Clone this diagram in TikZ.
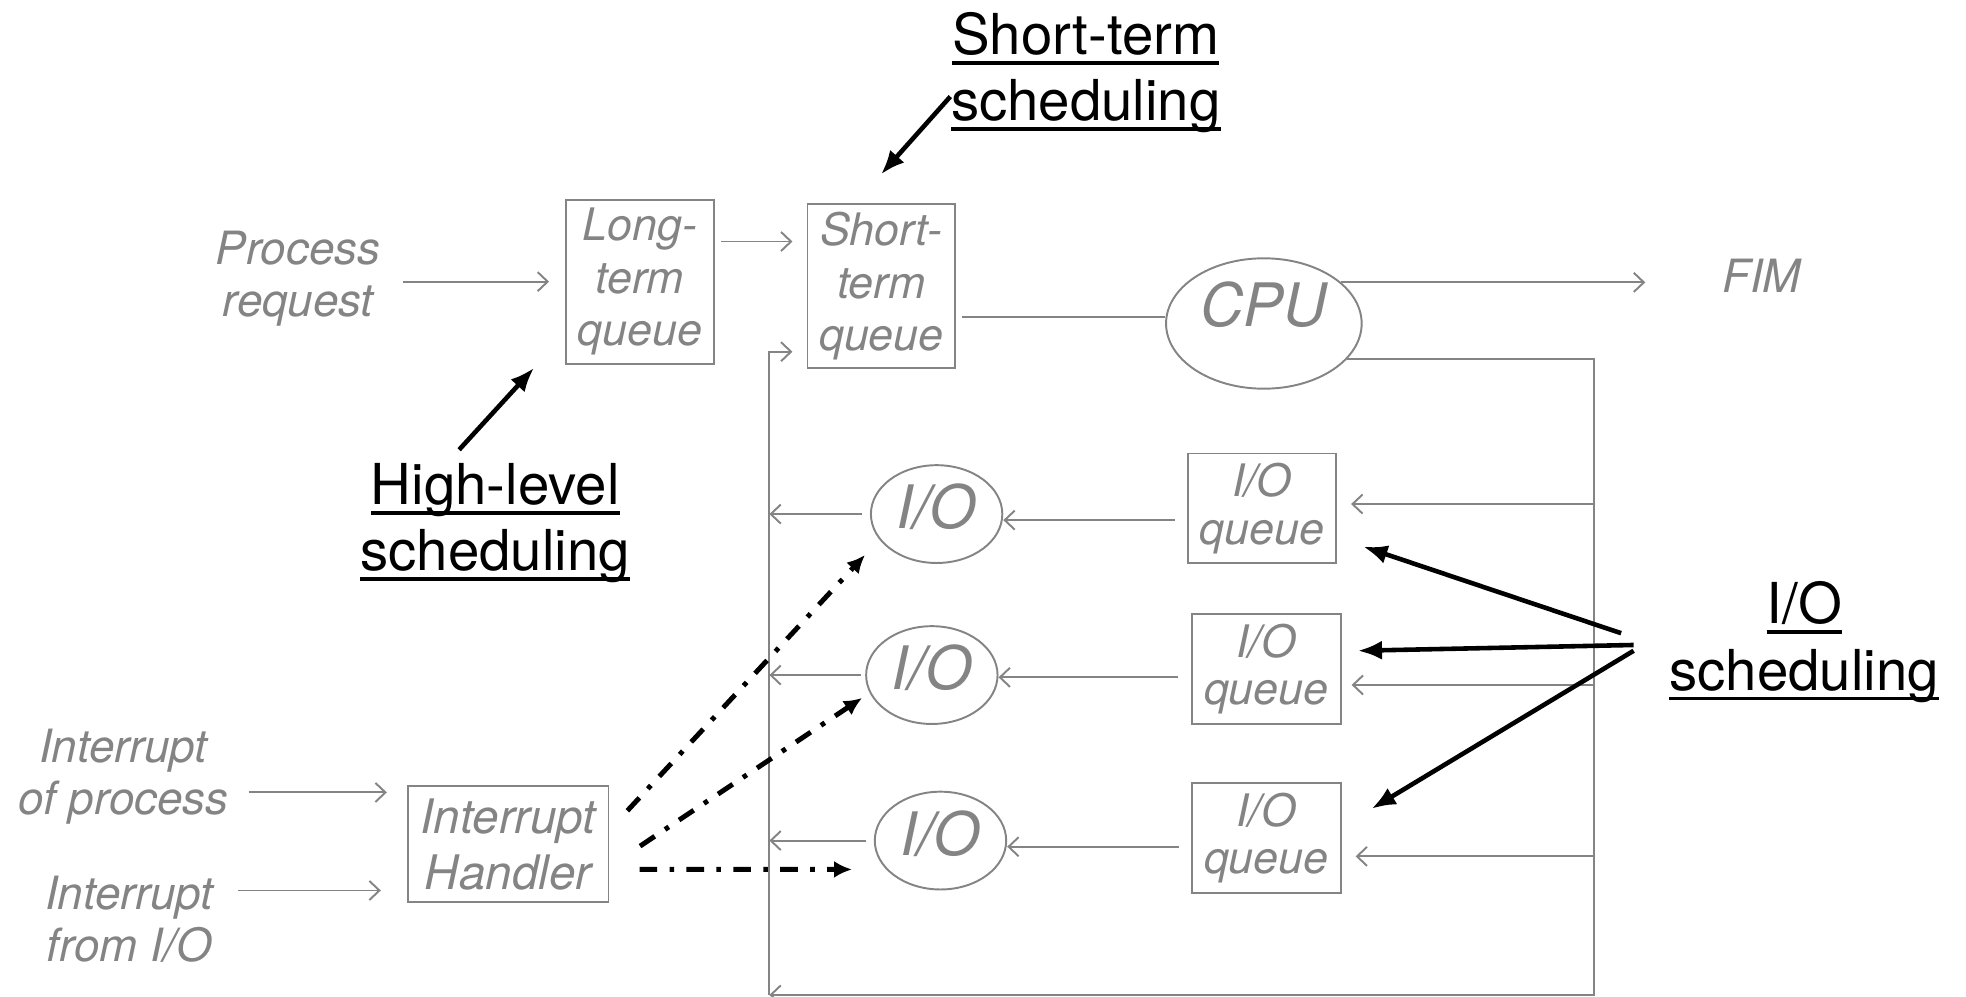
\documentclass[tikz,border=0pt]{standalone}
\usepackage{fontspec}
\setmainfont{TeX Gyre Heros}
\usetikzlibrary{arrows.meta,positioning,calc,shapes.geometric}
\definecolor{lgrey}{RGB}{132,132,132}
\newcommand{\undl}[1]{\setbox0\hbox{#1}\rlap{\vrule width\wd0 height -1.9pt depth 2.95pt}\box0}

\begin{document}
\begin{tikzpicture}[
  x=0.125mm, y=-0.125mm,
  glbl/.style  = {text=lgrey, align=center, inner sep=0pt,
                  font=\fontsize{13}{14.8}\selectfont\itshape},
  qbox/.style  = {draw=lgrey, line width=0.55pt, text=lgrey, align=center,
                  inner sep=0pt, minimum width=14.75mm, minimum height=16.35mm,
                  font=\fontsize{12.7}{14.9}\selectfont\itshape},
  ioq/.style   = {qbox, minimum width=14.8mm, minimum height=10.95mm,
                  font=\fontsize{12.7}{13.4}\selectfont\itshape},
  dev/.style   = {ellipse, draw=lgrey, line width=0.55pt, text=lgrey,
                  inner sep=0pt, minimum width=13.1mm, minimum height=9.75mm,
                  text depth=1.5mm, font=\fontsize{17}{20}\selectfont\itshape},
  ttl/.style   = {align=center, inner sep=0pt,
                  font=\fontsize{16}{18.8}\selectfont},
  gline/.style = {draw=lgrey, line width=0.55pt},
  garr/.style  = {gline, -{Straight Barb[length=1mm,width=1.9mm]}},
  barr/.style  = {-{Latex[length=2.4mm,width=1.9mm]}, line width=1.3pt},
  dd/.style    = {-{Latex[length=1.8mm,width=1.7mm]}, line width=1.4pt,
                  dash pattern=on 5pt off 3.5pt on 1.3pt off 3.5pt}
]
\useasboundingbox (0,0) rectangle (1568,795);

\node[ttl] (stl) at (866,58) {\undl{Short-term}\\\undl{scheduling}};
\node[ttl] (hll) at (395,417) {\undl{High-level}\\\undl{scheduling}};
\node[ttl] (iol) at (1439,512) {\undl{I/O}\\\undl{scheduling}};

\node[glbl, anchor=east] (pr) at (304,222) {Process\\request};
\node[qbox] (ltq) at (510.5,224.6) {Long-\\term\\queue};
\node[qbox] (stq) at (703,228.2) {Short-\\term\\queue};
\node[dev, minimum width=19.5mm, minimum height=13mm, text depth=3.8mm]
     (cpu) at (1008,258) {CPU};
\node[glbl, anchor=west] (fim) at (1373,220) {FIM};

\node[ioq] (q1) at (1006.4,405.5) {I/O\\queue};
\node[ioq] (q2) at (1010,533.6) {I/O\\queue};
\node[ioq] (q3) at (1010,668.6) {I/O\\queue};
\node[dev] (io1) at (747,410) {I/O};
\node[dev] (io2) at (743.2,538.4) {I/O};
\node[dev] (io3) at (750.1,670.4) {I/O};

\node[qbox, minimum width=20mm, minimum height=11.6mm,
      font=\fontsize{13.5}{16}\selectfont\itshape] (ih) at (405.3,673.3)
     {Interrupt\\Handler};
\node[glbl, anchor=east] (iop) at (183,619.5) {Interrupt\\of process};
\node[glbl, anchor=east] (ifo) at (171,733.3) {Interrupt\\from I/O};

\coordinate (lb) at (613.6,793.5);
\coordinate (rb) at (1271,793.5);

\draw[garr, shorten <=2.2mm, shorten >=1.6mm] (pr.east |- ltq.west) -- (ltq.west);
\draw[garr, shorten <=0.6mm, shorten >=1.4mm]
     ($(ltq.east)+(0,-32)$) -- ($(stq.west |- ltq.east)+(0,-32)$);
\draw[gline, shorten <=0.6mm]
     ($(stq.east |- cpu.west)+(0,-5)$) -- ($(cpu.west)+(0,-5)$);
\draw[garr, shorten >=7.6mm] (cpu.28) -- (cpu.28 -| fim.west);

\draw[garr] (cpu.337) -| (rb) -- (lb);
\draw[garr, shorten >=1.4mm] (lb) |- ($(stq.west)+(0,52.3)$);

\draw[garr, shorten >=1.4mm] ($(q1.east -| rb)+(0,-3.5)$) -- ($(q1.east)+(0,-3.5)$);
\draw[garr, shorten >=1mm] ($(q2.east -| rb)+(0,12.7)$) -- ($(q2.east)+(0,12.7)$);
\draw[garr, shorten >=1.4mm] ($(q3.east -| rb)+(0,14.4)$) -- ($(q3.east)+(0,14.4)$);

\draw[garr, shorten <=1.2mm] ($(q1.west)+(0,9.3)$) -- ($(io1.east |- q1.west)+(0,9.3)$);
\draw[garr, shorten <=1.3mm] ($(q2.west)+(0,6.6)$) -- ($(io2.east |- q2.west)+(0,6.6)$);
\draw[garr, shorten <=1.25mm] ($(q3.west)+(0,6.7)$) -- ($(io3.east |- q3.west)+(0,6.7)$);

\draw[garr, shorten <=0.8mm] (io1.west) -- (io1.west -| lb);
\draw[garr, shorten <=0.4mm] (io2.west) -- (io2.west -| lb);
\draw[garr, shorten <=0.75mm] (io3.west) -- (io3.west -| lb);

\draw[garr, shorten <=1.9mm, shorten >=2mm]
     ($(iop.east |- ih.west)+(0,-41.3)$) -- ($(ih.west)+(0,-41.3)$);
\draw[garr, shorten <=2.4mm, shorten >=2.6mm]
     ($(ifo.east |- ih.west)+(0,36.9)$) -- ($(ih.west)+(0,36.9)$);

\draw[dd, shorten >=2.1mm] ([shift={(14.3,-26.7)}]ih.east) -- (io1.204);
\draw[dd, shorten >=0.9mm] ([shift={(24.4,1.5)}]ih.east) -- (io2.196);
\draw[dd, shorten >=3.4mm] ([shift={(24,20)}]ih.east) -- (io3.208);

\draw[barr, shorten >=3.85mm] (stl.190) -- ([xshift=-2.6mm]stq.north);
\draw[barr, shorten <=1.7mm, shorten >=0.45mm]
     ([xshift=-4.75mm]hll.north) -- ([xshift=-2.8mm]ltq.south west);
\draw[barr] ([shift={(-38,-7)}]iol.west) -- ([shift={(21,30.5)}]q1.east);
\draw[barr] ([shift={(-28,2.4)}]iol.west) -- ([shift={(13,-14.6)}]q2.east);
\draw[barr] ([shift={(-28,7)}]iol.west) -- ([shift={(24,-23.6)}]q3.east);

\end{tikzpicture}
\end{document}
